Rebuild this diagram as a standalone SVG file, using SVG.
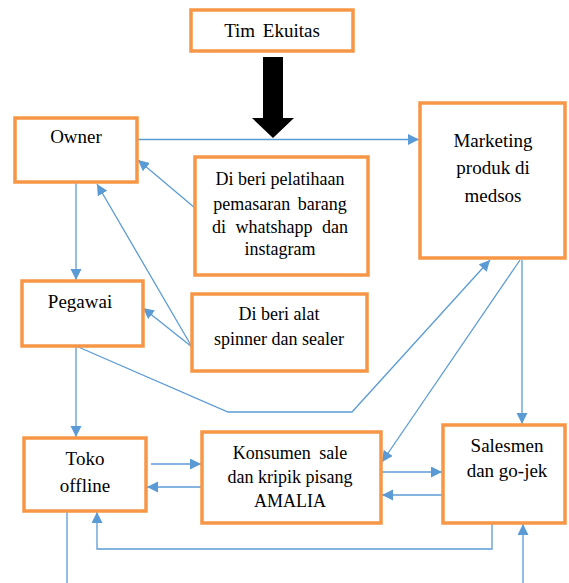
<svg xmlns="http://www.w3.org/2000/svg" width="569" height="583" viewBox="0 0 569 583">
<style>
.box{fill:#fff;stroke:#F79646;stroke-width:3.5}
.t{font-family:"Liberation Serif","Times New Roman","DejaVu Serif",serif;font-size:19px;fill:#000;text-anchor:middle}
.s{font-size:18px}
.c{fill:none;stroke:#5B9BD5;stroke-width:1.3}
</style>
<defs>
<marker id="ah" markerUnits="userSpaceOnUse" markerWidth="12" markerHeight="12" refX="11" refY="5.5" orient="auto" viewBox="0 0 12 12">
<path d="M0,0 L11,5.5 L0,11 z" fill="#5B9BD5"/>
</marker>
</defs>
<rect width="569" height="583" fill="#fff"/>
<g id="connectors">
<path class="c" d="M137,139.5 H419" marker-end="url(#ah)"/>
<path class="c" d="M76,182 V280" marker-end="url(#ah)"/>
<path class="c" d="M76,346 V437" marker-end="url(#ah)"/>
<path class="c" d="M195,208 L138,160" marker-end="url(#ah)"/>
<path class="c" d="M192,347 L97,184" marker-end="url(#ah)"/>
<path class="c" d="M192,347 L143,308" marker-end="url(#ah)"/>
<path class="c" d="M76,346 L228,412 L352,412 L490,260" marker-end="url(#ah)"/>
<path class="c" d="M520,260 L382,462" marker-end="url(#ah)"/>
<path class="c" d="M522,260 V424" marker-end="url(#ah)"/>
<path class="c" d="M151,464 H201" marker-end="url(#ah)"/>
<path class="c" d="M202,487 H147" marker-end="url(#ah)"/>
<path class="c" d="M382,472 H442" marker-end="url(#ah)"/>
<path class="c" d="M443,495 H382" marker-end="url(#ah)"/>
<path class="c" d="M492,523 V549 H97 V512" marker-end="url(#ah)"/>
<path class="c" d="M67,511 V583"/>
<path class="c" d="M523,583 V524" marker-end="url(#ah)"/>
<polygon points="263,57 283,57 283,118 294,118 273,138 252,118 263,118" fill="#000"/>
</g>
<g id="tim-ekuitas"><rect class="box" x="191" y="10" width="162" height="41"/><text class="t" x="272" y="37" word-spacing="3">Tim Ekuitas</text></g>
<g id="owner"><rect class="box" x="15" y="118" width="122" height="64"/><text class="t" x="76" y="143">Owner</text></g>
<g id="pegawai"><rect class="box" x="22" y="281" width="121" height="65"/><text class="t" x="80" y="308">Pegawai</text></g>
<g id="pelatihan"><rect class="box" x="195" y="157" width="173" height="118"/>
<text class="t s" x="280" y="185">Di beri pelatihaan</text>
<text class="t s" x="280" y="210" word-spacing="3">pemasaran barang</text>
<text class="t s" x="280" y="233" word-spacing="5">di whatshapp dan</text>
<text class="t s" x="280" y="255">instagram</text></g>
<g id="alat"><rect class="box" x="192" y="294" width="175" height="77"/>
<text class="t s" x="279" y="320">Di beri alat</text>
<text class="t s" x="279" y="345">spinner dan sealer</text></g>
<g id="marketing"><rect class="box" x="420" y="103" width="145" height="155"/>
<text class="t" x="493" y="147">Marketing</text>
<text class="t" x="493" y="174">produk di</text>
<text class="t" x="493" y="202">medsos</text></g>
<g id="toko"><rect class="box" x="24" y="438" width="122" height="73"/>
<text class="t" x="85" y="465">Toko</text>
<text class="t" x="85" y="492">offline</text></g>
<g id="konsumen"><rect class="box" x="202" y="432" width="179" height="91"/>
<text class="t s" x="290" y="459" word-spacing="4">Konsumen sale</text>
<text class="t s" x="290" y="483">dan kripik pisang</text>
<text class="t s" x="290" y="507">AMALIA</text></g>
<g id="salesmen"><rect class="box" x="443" y="425" width="122" height="98"/>
<text class="t" x="507" y="452">Salesmen</text>
<text class="t" x="507" y="477">dan go-jek</text></g>
</svg>
